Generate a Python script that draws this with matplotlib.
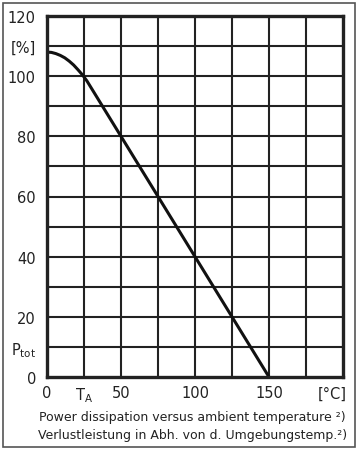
import numpy as np
import matplotlib.pyplot as plt
from matplotlib.patches import Rectangle

# derating curve
temp = [0, 3, 6, 9, 12, 15, 18, 21, 24, 27, 30, 150]
ptot = [108, 107.9, 107.5, 106.9, 106.1, 105, 103.7, 102.1, 100.4, 98.4, 96, 0]

x_ticks = [0, 25, 50, 100, 150, 193]
x_labels = ['0', r'T$_{\rm A}$', '50', '100', '150', '[°C]']
y_ticks = [0, 10, 20, 40, 60, 80, 100, 110, 120]
y_labels = ['0', r'P$_{\rm tot}$', '20', '40', '60', '80', '100', '[%]', '120']

plt.rcParams['font.family'] = ['DejaVu Sans']
plt.rcParams['mathtext.default'] = 'regular'

fig = plt.figure(figsize=(3.6, 4.52), dpi=100)
ax = fig.add_axes([47/360, 1 - 378/452, 296/360, 361/452])

# outer frame around the whole figure
fig.patches.append(Rectangle((3/360, 4/452), 352/360, 444/452, transform=fig.transFigure,
                             fill=False, edgecolor='#555555', linewidth=1.2))

ax.plot(temp, ptot, color='#111111', linewidth=2.2, solid_capstyle='butt')

ax.set_xlim(0, 200)
ax.set_ylim(0, 120)
for xv in np.arange(25, 200, 25):
    ax.axvline(xv, color='#222222', linewidth=1.5, zorder=0)
for yv in np.arange(10, 120, 10):
    ax.axhline(yv, color='#222222', linewidth=1.5, zorder=0)

for s in ax.spines.values():
    s.set_linewidth(2.4)
    s.set_color('#222222')

ax.set_xticks(x_ticks)
ax.set_xticklabels(x_labels, fontsize=10.5, color='#222222')
ax.set_yticks(y_ticks)
ax.set_yticklabels(y_labels, fontsize=10.5, color='#222222')
ax.tick_params(length=0, pad=8)
ax.tick_params(axis='x', pad=6)

fig.text(0.535, 1 - 418/452, 'Power dissipation versus ambient temperature ²)',
         ha='center', va='center', fontsize=9, color='#222222')
fig.text(0.535, 1 - 436/452, 'Verlustleistung in Abh. von d. Umgebungstemp.²)',
         ha='center', va='center', fontsize=9, color='#222222')

fig.savefig('out.png', dpi=100)
